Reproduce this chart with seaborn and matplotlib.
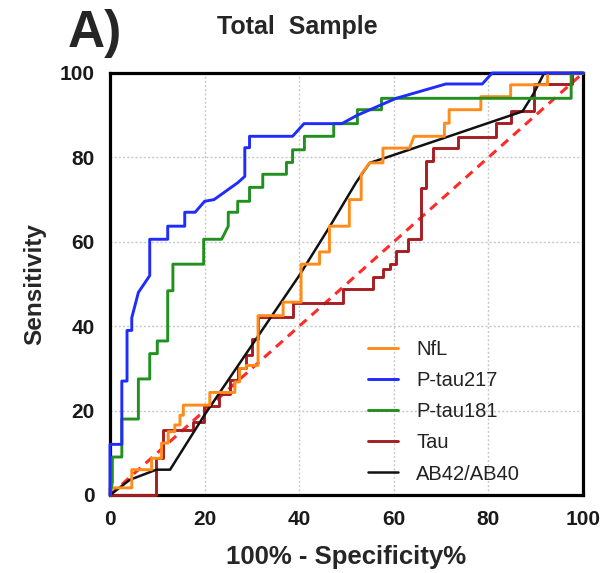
import matplotlib
matplotlib.use("Agg")
import matplotlib.pyplot as plt
import seaborn as sns
import pandas as pd

# ---- data ----
series_names = ["NfL", "P-tau217", "P-tau181", "Tau", "AB42/AB40"]

nfl_x = [0, 0, 4.6, 4.6, 8.8, 8.8, 10.9, 10.9, 12.3, 12.3, 13.7, 13.7, 14.8, 14.8, 15.5, 15.5,
         21.1, 21.1, 26.4, 26.4, 27.4, 27.4, 28.8, 28.8, 31.3, 31.3, 36.6, 36.6, 40.4, 40.4,
         44.3, 44.3, 46.4, 46.4, 50.6, 50.6, 53.1, 53.1, 54.9, 57.7, 57.7, 63.3, 64.3, 70.7,
         70.7, 71.7, 71.7, 78.4, 78.4, 84.7, 84.7, 92.5, 92.5, 100]
nfl_y = [0, 1.7, 1.7, 6, 6, 8.7, 8.7, 12.3, 12.3, 15, 15, 16.6, 16.6, 18.9, 18.9, 21.3,
         21.3, 24.3, 24.3, 26.8, 26.8, 30, 30, 30.7, 30.7, 42.5, 42.5, 45.7, 45.7, 54.7,
         54.7, 57.6, 57.6, 63.7, 63.7, 70, 70, 76, 78.7, 78.7, 82.2, 82.2, 85, 85,
         88.1, 88.1, 91.3, 91.3, 94.4, 94.4, 97.2, 97.2, 100, 100]

ptau217_x = [0, 0, 2.5, 2.5, 3.6, 3.6, 4.6, 4.6, 6, 8.4, 8.4, 12.2, 12.2, 15.8, 15.8, 18, 20,
             22, 27, 28.5, 28.5, 29.5, 29.5, 38.6, 41, 49, 52.3, 60.5, 71, 78.7, 80.8, 100]
ptau217_y = [0, 12, 12, 27, 27, 39, 39, 42, 48, 52, 60.6, 60.6, 63.7, 63.7, 67, 67, 69.6,
             70, 74, 75.5, 82.3, 82.3, 85, 85, 88, 88, 90, 94, 97.4, 97.4, 100, 100]

ptau181_x = [0, 0.5, 0.5, 2.5, 2.5, 6, 6, 8.4, 8.4, 10, 10, 12.2, 12.2, 13.3, 13.3, 19.8, 19.8,
             23.6, 25, 25, 27, 27, 29.5, 29.5, 32.3, 32.3, 37.3, 37.3, 38.6, 38.6, 41.1, 41.1,
             47.3, 47.3, 52.3, 52.3, 57.4, 57.4, 97.5, 97.5, 100]
ptau181_y = [0, 3, 9, 9, 18, 18, 27.5, 27.5, 33.5, 33.5, 36.5, 36.5, 48.4, 48.4, 54.7, 54.7, 60.6,
             60.6, 63.7, 67, 67, 69.6, 69.6, 72.9, 72.9, 76, 76, 78.8, 78.8, 81.8, 81.8, 85,
             85, 88, 88, 91.3, 91.3, 94, 94, 100, 100]

tau_x = [0, 9.8, 9.8, 11.2, 11.2, 17.6, 17.6, 19.8, 19.8, 23, 23, 25.3, 25.3, 27, 27, 28.8, 28.8,
         30, 30, 31.3, 31.3, 38.7, 38.7, 49.2, 49.2, 55.5, 55.5, 57.7, 57.7, 59.1, 59.1, 60.5,
         60.5, 62.9, 62.9, 65.8, 65.8, 66.8, 66.8, 68.2, 68.2, 73.5, 73.5, 81.6, 81.6, 84.7,
         84.7, 89.7, 89.7, 97.7, 97.7, 100]
tau_y = [0, 0, 8.7, 8.7, 15.4, 15.4, 17.4, 17.4, 21, 21, 24, 24, 27.2, 27.2, 30, 30, 33.1,
         33.1, 37, 37, 42.2, 42.2, 45.5, 45.5, 48.8, 48.8, 51.6, 51.6, 53.5, 53.5, 54.7, 54.7,
         57.9, 57.9, 60.6, 60.6, 72.8, 72.8, 79.1, 79.1, 82.2, 82.2, 84.8, 84.8, 88.1, 88.1,
         91.1, 91.1, 97.4, 97.4, 100, 100]

ab_x = [0, 4.2, 9.8, 12.7, 20, 30, 40, 46.4, 52, 54.9, 58.2, 73, 87.2, 89.5, 91.8, 100]
ab_y = [0, 3.6, 6, 6, 19, 35.5, 52, 63.5, 74, 78.7, 79.9, 85.5, 90.9, 95, 100, 100]

ref_x = [0, 100]
ref_y = [0, 100]

# ---- assemble ----
data = {
    "NfL": (nfl_x, nfl_y),
    "P-tau217": (ptau217_x, ptau217_y),
    "P-tau181": (ptau181_x, ptau181_y),
    "Tau": (tau_x, tau_y),
    "AB42/AB40": (ab_x, ab_y),
}
frames = []
for name in series_names:
    xs, ys = data[name]
    frames.append(pd.DataFrame({"x": xs, "y": ys, "marker": name, "i": range(len(xs))}))
df = pd.concat(frames, ignore_index=True)

colors = {
    "NfL": "#FF8C1A",
    "P-tau217": "#1F2BFF",
    "P-tau181": "#22901E",
    "Tau": "#A61E22",
    "AB42/AB40": "#111111",
}

sns.set_style("white")
plt.rcParams["font.family"] = ["Liberation Sans", "DejaVu Sans"]

fig = plt.figure(figsize=(6.05, 5.73), dpi=100)
ax = fig.add_axes([110 / 605, 1 - 495 / 573, (583 - 110) / 605, (495 - 73) / 573])

# reference diagonal
sns.lineplot(x=ref_x, y=ref_y, ax=ax, color="#FF2A2A", lw=2.2, linestyle=(0, (3, 2.2)),
             zorder=2, clip_on=False, legend=False)

draw_order = ["Tau", "AB42/AB40", "NfL", "P-tau181", "P-tau217"]
zs = {"Tau": 3, "AB42/AB40": 4, "NfL": 5, "P-tau181": 6, "P-tau217": 7}
for name in draw_order:
    sub = df[df["marker"] == name]
    sns.lineplot(data=sub, x="x", y="y", sort=False, estimator=None, ax=ax,
                 color=colors[name], lw=2.1 if name != "AB42/AB40" else 1.8,
                 label=name, zorder=zs[name], clip_on=False)

ax.set_xlim(0, 100)
ax.set_ylim(0, 100)
ax.set_xticks([0, 20, 40, 60, 80, 100])
ax.set_yticks([0, 20, 40, 60, 80, 100])
ax.grid(True, color="#C8C8C8", linestyle=(0, (1.5, 1.5)), lw=1.0)
ax.set_axisbelow(True)
for sp in ax.spines.values():
    sp.set_visible(True)
    sp.set_color("black")
    sp.set_linewidth(2.3)
ax.tick_params(axis="both", direction="out", length=7, width=2.3, color="black",
               labelsize=15, pad=4)
for lab in ax.get_xticklabels() + ax.get_yticklabels():
    lab.set_fontweight("bold")
    lab.set_color("#1a1a1a")

ax.set_xlabel("100% - Specificity%", fontsize=18.5, fontweight="bold")
ax.set_ylabel("Sensitivity", fontsize=17.5, fontweight="bold")
ax.xaxis.set_label_coords(0.5, -0.118)
ax.yaxis.set_label_coords(-0.135, 0.5)

handles, labels = ax.get_legend_handles_labels()
hmap = dict(zip(labels, handles))
leg = ax.legend([hmap[n] for n in series_names], series_names, loc="center left",
                bbox_to_anchor=(0.507, 0.197), frameon=False, fontsize=14.5,
                handlelength=1.5, handletextpad=0.9, labelspacing=0.6)
for t in leg.get_texts():
    t.set_color("#222222")

fig.text(0.359, 0.953, "Total  Sample", fontsize=18, fontweight="bold", ha="left", va="center")
fig.text(0.112, 0.942, "A)", fontsize=37, fontweight="bold", ha="left", va="center")

fig.savefig("out.png", dpi=100, facecolor="white")
